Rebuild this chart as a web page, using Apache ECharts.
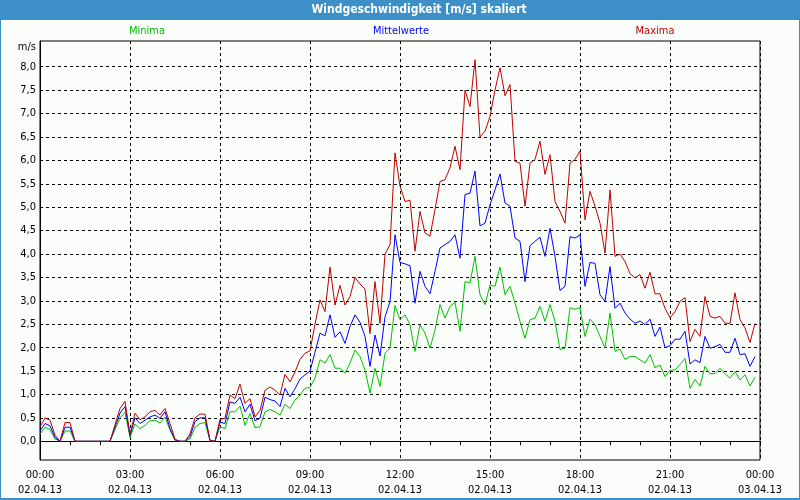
<!DOCTYPE html>
<html><head><meta charset="utf-8">
<script src="https://cdn.jsdelivr.net/npm/echarts@6/dist/echarts.min.js"></script>
<style>html,body{margin:0;padding:0;background:#fbfdfa}#c{width:800px;height:500px}</style>
</head><body><div id="c"></div>
<script>
// 10-minute values, 02.04.13 00:00 .. 23:50
const stepMinutes = 10;
const minima = [
0.15,0.3,0.25,0.05,0,0.22,0.22,0,0,0,0,0,0,0,0,0.25,0.5,0.62,0.08,0.37,
0.27,0.34,0.44,0.45,0.39,0.52,0.24,0.02,0,0,0.05,0.3,0.38,0.4,0.01,0,0.31,0.27,0.63,0.63,
0.75,0.34,0.59,0.29,0.31,0.63,0.68,0.63,0.56,0.79,0.7,0.88,0.99,1.13,1.15,1.35,1.74,1.67,1.85,1.56,
1.56,1.45,1.67,1.95,1.81,1.52,1.03,1.56,1.17,1.88,1.99,2.9,2.6,2.7,2.49,1.92,2.49,2.31,1.99,2.38,
2.92,2.63,2.88,2.97,2.35,3.41,3.38,3.95,3.13,2.92,3.34,3.31,3.72,3.13,3.31,2.95,2.56,2.2,2.6,2.63,
2.88,2.56,2.92,2.56,1.96,1.99,2.85,2.82,2.85,2.24,2.61,2.49,2.24,1.99,2.74,1.92,1.97,1.75,1.81,1.81,
1.74,1.67,1.85,1.57,1.63,1.38,1.52,1.52,1.64,1.77,1.13,1.32,1.18,1.6,1.44,1.45,1.56,1.44,1.35,1.49,
1.31,1.42,1.18,1.37];
const mittelwerte = [
0.22,0.38,0.33,0.08,0,0.3,0.3,0,0,0,0,0,0,0,0,0.3,0.6,0.74,0.12,0.5,
0.38,0.45,0.52,0.56,0.49,0.63,0.27,0.03,0,0,0.1,0.42,0.5,0.5,0.02,0,0.41,0.38,0.84,0.81,
0.94,0.63,0.79,0.44,0.49,0.94,0.89,0.86,0.74,1.13,0.95,1.12,1.33,1.42,1.5,1.9,2.31,2.25,2.7,2.22,
2.34,2.09,2.45,2.7,2.54,2.24,1.6,2.27,1.82,2.66,2.98,4.41,3.82,3.79,3.75,2.95,3.63,3.31,3.15,3.63,
4.13,4.2,4.27,4.41,3.91,5.27,5.3,5.77,4.6,4.66,5.05,5.37,5.71,5.09,5.02,4.34,4.27,3.41,4.18,4.27,
4.36,3.95,4.55,3.95,3.22,3.31,4.37,4.34,4.41,3.31,3.82,3.8,3.13,2.99,3.73,2.84,2.95,2.74,2.61,2.52,
2.57,2.49,2.61,2.24,2.44,2.0,2.04,2.18,2.18,2.35,1.65,1.74,1.68,2.24,1.99,2.02,2.07,1.9,1.9,2.2,
1.85,1.87,1.6,1.81];
const maxima = [
0.31,0.5,0.45,0.13,0,0.4,0.4,0,0,0,0,0,0,0,0,0.35,0.7,0.85,0.15,0.6,
0.46,0.52,0.63,0.66,0.56,0.7,0.38,0.04,0,0,0.16,0.5,0.58,0.58,0.02,0,0.47,0.49,0.99,0.91,
1.22,0.81,0.91,0.52,0.66,1.09,1.16,1.09,0.99,1.43,1.27,1.48,1.75,1.88,1.93,2.5,3.02,2.77,3.72,2.91,
3.33,2.91,3.09,3.5,3.36,3.25,2.3,3.41,2.52,4.0,4.2,6.16,5.45,5.12,5.15,4.06,4.91,4.45,4.38,4.95,
5.55,5.59,5.84,6.3,5.8,7.5,7.15,8.15,6.5,6.62,6.94,7.5,7.98,7.38,7.62,5.98,5.94,5.02,5.94,6.02,
6.41,5.7,6.12,5.12,4.91,4.66,5.94,6.02,6.2,4.73,5.34,5.02,4.66,4.02,5.37,3.95,4.0,3.84,3.58,3.49,
3.56,3.27,3.61,3.15,3.15,2.84,2.64,2.77,2.99,3.07,2.13,2.39,2.24,3.09,2.67,2.63,2.67,2.52,2.52,3.17,
2.6,2.42,2.11,2.52];
const yTicks = [0,0.5,1,1.5,2,2.5,3,3.5,4,4.5,5,5.5,6,6.5,7,7.5,8];
const xTickDates = ['02.04.13','03.04.13'];

const FONT = "'DejaVu Sans Condensed','DejaVu Sans',sans-serif";
const toPairs = arr => arr.map((v, i) => [i * stepMinutes, v]);
const chart = echarts.init(document.getElementById('c'), null, {renderer: 'canvas'});
chart.setOption({
  animation: false,
  backgroundColor: '#fbfdfa',
  textStyle: {fontFamily: FONT},
  grid: {left: 40, right: 40, top: 41, bottom: 40, show: true, borderColor: '#000', borderWidth: 1, backgroundColor: 'transparent'},
  xAxis: {
    type: 'value', min: 0, max: 1440, interval: 180,
    axisLine: {lineStyle: {color: '#000', width: 1}},
    axisTick: {show: true, length: 4, lineStyle: {color: '#000'}},
    minorTick: {show: true, splitNumber: 3, length: 4, lineStyle: {color: '#000'}},
    splitLine: {show: true, lineStyle: {color: '#000', type: [3, 3], width: 1}},
    axisLabel: {
      color: '#000', fontSize: 11, fontFamily: FONT, lineHeight: 15, margin: 8,
      formatter: v => {
        const h = Math.floor(v / 60) % 24;
        return String(h).padStart(2, '0') + ':00\n' + xTickDates[v >= 1440 ? 1 : 0];
      }
    }
  },
  yAxis: {
    type: 'value', min: -0.4, max: 8.55,
    axisLine: {show: true, lineStyle: {color: '#000', width: 1}},
    axisTick: {show: false},
    splitLine: {show: false},
    axisLabel: {
      color: '#000', fontSize: 11, fontFamily: FONT, margin: 4,
      customValues: yTicks,
      formatter: v => v.toFixed(1).replace('.', ',')
    }
  },
  graphic: [
    {type: 'rect', shape: {x: 0, y: 0, width: 800, height: 20}, style: {fill: '#3d8fc7'}, silent: true},
    {type: 'rect', shape: {x: 0, y: 0, width: 1, height: 500}, style: {fill: '#3d8fc7'}, silent: true},
    {type: 'rect', shape: {x: 799, y: 0, width: 1, height: 500}, style: {fill: '#3d8fc7'}, silent: true},
    {type: 'rect', shape: {x: 0, y: 498, width: 800, height: 2}, style: {fill: '#3d8fc7'}, silent: true},
    {type: 'text', x: 419, y: 10, style: {text: 'Windgeschwindigkeit [m/s] skaliert', fill: '#fff', font: "bold 12px " + FONT, align: 'center', verticalAlign: 'middle'}, silent: true},
    {type: 'text', x: 147, y: 31, style: {text: 'Minima', fill: '#00c000', font: "11px " + FONT, align: 'center', verticalAlign: 'middle'}, silent: true},
    {type: 'text', x: 401, y: 31, style: {text: 'Mittelwerte', fill: '#0000ff', font: "11px " + FONT, align: 'center', verticalAlign: 'middle'}, silent: true},
    {type: 'text', x: 655, y: 31, style: {text: 'Maxima', fill: '#c00000', font: "11px " + FONT, align: 'center', verticalAlign: 'middle'}, silent: true},
    {type: 'text', x: 36, y: 47, style: {text: 'm/s', fill: '#000', font: "11px " + FONT, align: 'right', verticalAlign: 'middle'}, silent: true}
  ],
  series: [
    {type: 'line', data: [], z: 1, silent: true,
      markLine: {silent: true, z: 1, symbol: ['none', 'none'], label: {show: false},
        lineStyle: {color: '#000', type: [3, 3], width: 1},
        data: yTicks.map(v => ({yAxis: v}))}},
    {name: 'Minima', type: 'line', data: toPairs(minima), showSymbol: false, z: 3,
      lineStyle: {color: '#00c000', width: 1}, itemStyle: {color: '#00c000'}},
    {name: 'Mittelwerte', type: 'line', data: toPairs(mittelwerte), showSymbol: false, z: 4,
      lineStyle: {color: '#0000ff', width: 1}, itemStyle: {color: '#0000ff'}},
    {name: 'Maxima', type: 'line', data: toPairs(maxima), showSymbol: false, z: 5,
      lineStyle: {color: '#c00000', width: 1}, itemStyle: {color: '#c00000'}}
  ]
});
</script>
</body></html>
